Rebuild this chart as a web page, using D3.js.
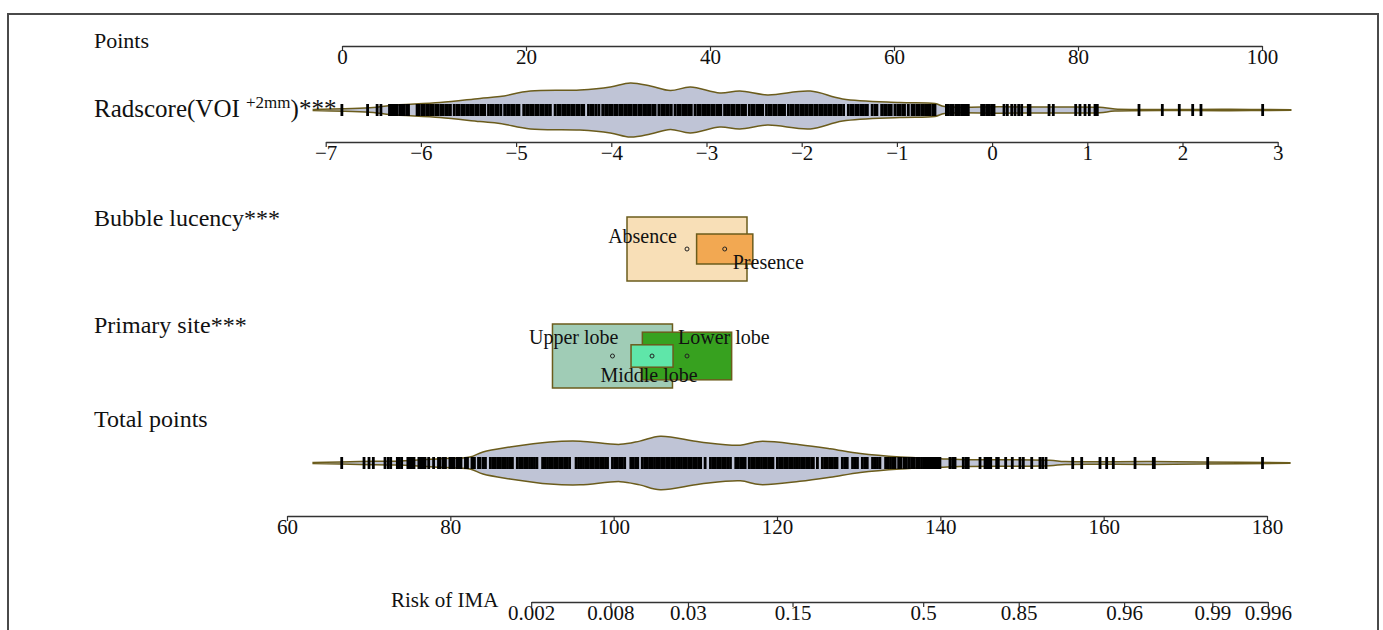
<!DOCTYPE html>
<html>
<head>
<meta charset="utf-8">
<script src="https://cdn.jsdelivr.net/npm/d3@7"></script>
<style>
  body { margin: 0; background: #fff; }
  text { font-family: "Liberation Serif", "Times New Roman", serif; fill: #111; }
</style>
</head>
<body>
<div id="chart"></div>
<script>
(function() {
  'use strict';

  // ---- data ----
  var pointsTicks = [0, 20, 40, 60, 80, 100];
  var radscoreTicks = [-7, -6, -5, -4, -3, -2, -1, 0, 1, 2, 3];
  var totalTicks = [60, 80, 100, 120, 140, 160, 180];
  var riskLabels = ["0.002", "0.008", "0.03", "0.15", "0.5", "0.85", "0.96", "0.99", "0.996"];
  var riskAtTotal = [89.9, 99.6, 109.1, 121.9, 137.9, 149.6, 162.5, 173.3, 180.1];

  var bubbleLevels = ["Absence", "Presence"];
  var bubblePoints = [37.5, 41.6];
  var bubbleFreq = [0.82, 0.18];

  var siteLevels = ["Upper lobe", "Middle lobe", "Lower lobe"];
  var sitePoints = [29.4, 33.7, 37.5];
  var siteFreq = [0.596, 0.073, 0.330];

  // violin outlines (relative density)
  var radDensX = [-7.13, -6.8, -6.5, -6.32, -5.8, -5.38, -5.17, -4.85, -4.33, -4.01, -3.8, -3.59, -3.38, -3.17,
    -2.86, -2.65, -2.36, -1.91, -1.57, -0.97, -0.6, -0.5, 0.08, 0.5, 1.13, 1.29, 2.5, 3.137];
  var radDensY = [0.02, 0.05, 0.09, 0.17, 0.28, 0.43, 0.5, 0.7, 0.74, 0.85, 1.0, 0.89, 0.72, 0.85,
    0.63, 0.7, 0.56, 0.7, 0.41, 0.28, 0.24, 0.13, 0.12, 0.11, 0.1, 0.04, 0.025, 0.01];

  var totalDensX = [63.2, 68.9, 73.8, 78.7, 82.4, 84.0, 87.3, 92.2, 95.9, 100.8, 103.2, 105.7, 110.6, 115.5,
    117.9, 122.8, 126.5, 130.2, 135.1, 140.0, 142.4, 153.4, 155.3, 165.7, 171.8, 182.8];
  var totalDensY = [0.02, 0.055, 0.075, 0.16, 0.22, 0.41, 0.59, 0.78, 0.81, 0.69, 0.81, 0.99, 0.78, 0.66,
    0.8, 0.68, 0.53, 0.35, 0.22, 0.16, 0.13, 0.1, 0.055, 0.055, 0.04, 0.01];

  // rug values
  var radscoreRug = [-6.83, -6.56, -6.46, -6.42,
    -6.33, -6.31, -6.29, -6.27, -6.25, -6.22, -6.20, -6.18, -6.15, -6.13,
    -6.04, -6.02, -5.99, -5.97, -5.94, -5.92, -5.89, -5.87, -5.84, -5.82, -5.79, -5.77, -5.74, -5.72, -5.69,
    -5.65, -5.62, -5.60, -5.57, -5.55, -5.52, -5.50, -5.47, -5.45, -5.42, -5.40, -5.37, -5.35, -5.33,
    -5.29, -5.26, -5.24, -5.21, -5.19, -5.16,
    -5.12, -5.09, -5.07, -5.04, -5.02, -4.99, -4.97,
    -4.92, -4.89, -4.87, -4.84, -4.82, -4.79, -4.77, -4.74, -4.72, -4.69, -4.67, -4.64,
    -4.59, -4.56, -4.54, -4.51, -4.49, -4.46, -4.44, -4.41, -4.39, -4.36, -4.34, -4.31, -4.29,
    -4.24, -4.21, -4.19, -4.16, -4.13,
    -4.09, -4.06, -4.04, -4.01, -3.99, -3.96, -3.94, -3.91, -3.89, -3.86, -3.84, -3.81, -3.79, -3.76,
    -3.74, -3.71, -3.69, -3.66, -3.64, -3.61, -3.59, -3.56, -3.54,
    -3.50, -3.47, -3.45, -3.42, -3.40, -3.37,
    -3.33, -3.30, -3.28, -3.25, -3.23, -3.21, -3.18, -3.16,
    -3.12, -3.09, -3.07, -3.04, -3.02, -2.99, -2.97, -2.94, -2.92, -2.89, -2.87, -2.85,
    -2.81, -2.78, -2.76, -2.73, -2.71, -2.68, -2.66, -2.63, -2.61, -2.59,
    -2.55, -2.52, -2.50, -2.47, -2.45, -2.43, -2.41,
    -2.37, -2.34, -2.32, -2.29, -2.27, -2.24, -2.22, -2.20, -2.18,
    -2.14, -2.11, -2.09, -2.06, -2.04, -2.01, -1.99, -1.96, -1.94, -1.91, -1.89, -1.86, -1.84, -1.81,
    -1.79, -1.76, -1.74, -1.71, -1.69, -1.66, -1.64, -1.61, -1.59, -1.56,
    -1.51, -1.48, -1.46, -1.43, -1.41, -1.38, -1.36, -1.33, -1.31,
    -1.26, -1.23, -1.21, -1.16, -1.13, -1.11, -1.08, -1.06,
    -1.02, -0.99, -0.97, -0.94, -0.92,
    -0.88, -0.84, -0.82, -0.79, -0.77, -0.74, -0.72, -0.69, -0.67, -0.65, -0.62, -0.60,
    -0.48, -0.46, -0.435, -0.41, -0.38, -0.365, -0.345, -0.32, -0.295, -0.275, -0.25,
    -0.11, -0.085, -0.057, -0.029, -0.004, 0.02,
    0.125, 0.16, 0.206, 0.241, 0.279, 0.311, 0.38, 0.398, 0.598, 0.643,
    0.878, 0.923, 0.976, 1.021, 1.081, 1.105, 1.543, 1.788, 1.966, 2.107, 2.194, 2.842];

  var totalRug = [66.7, 69.43, 70.04, 70.57, 72.0, 72.4, 72.7, 73.51, 73.75, 74.04,
    74.80, 75.05, 75.30, 75.55, 76.15, 76.40, 76.65, 76.90, 77.35, 77.95, 78.55, 78.75,
    79.15, 79.40, 79.95, 80.20, 80.40, 80.80, 81.05, 81.30, 81.85, 82.10, 82.65, 82.95,
    83.45, 83.65, 84.05, 84.30,
    84.90, 85.20, 85.50, 85.80, 86.10, 86.40, 86.70, 87.00, 87.30, 87.60,
    88.20, 88.50, 88.80, 89.10, 89.40, 89.70, 90.00, 90.30, 90.60,
    91.30, 91.60, 91.90, 92.20, 92.50, 92.80, 93.10, 93.40, 93.70, 94.00, 94.30, 94.60,
    95.40, 95.70, 96.00, 96.30, 96.60, 96.90, 97.20, 97.50, 97.80, 98.10, 98.40, 98.70, 99.00, 99.25,
    99.85, 100.15, 100.45, 100.75, 101.05, 101.35, 102.10, 102.40, 102.70, 102.95,
    103.50, 103.80, 104.10, 104.40, 104.70, 105.00, 105.30, 105.60, 105.90, 106.20, 106.50, 106.80,
    107.10, 107.40, 107.70, 108.00, 108.30, 108.60, 108.90, 109.20, 109.50, 109.80, 110.10, 110.40, 110.65,
    111.20, 111.85, 112.15, 112.45, 112.75, 113.05, 113.35, 113.65, 113.95, 114.30,
    114.95, 115.25, 115.55, 115.85, 116.10,
    116.60, 116.90, 117.20, 117.50, 117.80, 118.10, 118.40, 118.70, 119.00, 119.30, 119.50,
    120.05, 120.35, 120.65, 120.95, 121.25, 121.55, 121.85, 122.15, 122.45, 122.75, 123.05, 123.35,
    123.65, 123.95, 124.25, 124.45, 124.95,
    125.55, 125.85, 126.15, 126.45, 126.75, 127.05, 127.35, 128.00, 128.30, 128.60,
    129.25, 129.55, 129.85, 130.45, 130.75, 131.05, 131.70, 132.00, 132.30, 132.60,
    133.30, 133.60, 133.90, 134.20, 134.45,
    134.90, 135.20, 135.60, 135.85, 136.20, 136.50, 136.75, 137.10, 137.40, 137.70, 138.00,
    138.25, 138.50, 138.75, 139.00, 139.25, 139.45, 139.70, 139.95,
    141.18, 141.51, 141.80, 142.81, 143.14, 143.42, 144.86, 145.47, 145.75, 145.99, 146.17,
    146.90, 147.10, 148.00, 148.81, 149.75, 150.16, 151.19, 152.20, 152.53, 152.94,
    156.21, 157.31, 159.55, 160.37, 161.18, 163.84, 166.08, 166.20, 172.74, 179.45];

  // ---- layout ----
  var width = 1383, height = 630;
  var labelX = 94;
  var rows = {
    points: 46, radViolin: 110, radAxis: 142, bubble: 249, site: 356,
    totalViolin: 463, totalAxis: 516, risk: 602
  };
  var boxMax = { w: 120, h: 64 };
  var boxColors = {
    "Absence": "#f8dfb7", "Presence": "#f2a852",
    "Upper lobe": "#a0ccb6", "Middle lobe": "#5fe6a9", "Lower lobe": "#37a11f"
  };
  // label placement around each box centre: [dx, dy, anchor]
  var labelOffsets = {
    "Absence": [-10, -6, "end"], "Presence": [8, 20, "start"],
    "Upper lobe": [6, -12, "end"], "Middle lobe": [-3, 26, "middle"], "Lower lobe": [-9, -12, "start"]
  };
  var outline = "#6b5c1c";

  var pointsX = d3.scaleLinear().domain([0, 100]).range([342, 1262]);
  var radX = d3.scaleLinear().domain([-7, 3]).range([325.7, 1277.7]);
  var totalX = d3.scaleLinear().domain([60, 180]).range([287, 1267]);
  var riskX = d3.scaleLinear()
    .domain([riskAtTotal[0], riskAtTotal[riskAtTotal.length - 1]])
    .range([totalX(riskAtTotal[0]), totalX(riskAtTotal[riskAtTotal.length - 1])]);
  var halfW = d3.scaleLinear().domain([0, 1]).range([0, 27]);

  var svg = d3.select("#chart").append("svg")
    .attr("width", width)
    .attr("height", height);

  svg.append("rect")
    .attr("x", 8).attr("y", 14)
    .attr("width", 1370).attr("height", 700)
    .attr("fill", "none")
    .attr("stroke", "#4a4a4a")
    .attr("stroke-width", 2);

  function drawAxis(scale, y, ticks, fmt, fontSize) {
    var axis = d3.axisBottom(scale)
      .tickValues(ticks)
      .tickSize(5)
      .tickSizeOuter(0);
    if (fmt) axis.tickFormat(fmt);
    var g = svg.append("g")
      .attr("transform", "translate(0," + y + ")")
      .call(axis)
      .attr("font-family", null)
      .attr("font-size", null);
    g.select(".domain").attr("stroke", "#333").attr("stroke-width", 1.4);
    g.selectAll(".tick line").attr("stroke", "#333").attr("stroke-width", 1.2);
    g.selectAll(".tick text")
      .attr("y", 18)
      .attr("dy", 0)
      .style("font-size", fontSize + "px");
    return g;
  }

  function drawViolin(scale, cy, xs, ys, rug) {
    var pts = xs.map(function(x, i) { return [x, ys[i]]; });
    var area = d3.area()
      .x(function(d) { return scale(d[0]); })
      .y0(function(d) { return cy + halfW(d[1]); })
      .y1(function(d) { return cy - halfW(d[1]); })
      .curve(d3.curveCatmullRom.alpha(0.5));
    svg.append("path")
      .datum(pts)
      .attr("d", area)
      .attr("fill", "#bfc4d6")
      .attr("stroke", outline)
      .attr("stroke-width", 1.5);
    svg.append("g").selectAll("line")
      .data(rug)
      .enter().append("line")
      .attr("x1", function(d) { return scale(d); })
      .attr("x2", function(d) { return scale(d); })
      .attr("y1", cy - 6)
      .attr("y2", cy + 6)
      .attr("stroke", "#000")
      .attr("stroke-width", 2.8);
  }

  function drawBoxes(levels, pointsVals, freq, cy) {
    var fmax = d3.max(freq);
    var size = d3.scaleSqrt().domain([0, fmax]).range([0, 1]);
    var items = levels.map(function(l, i) {
      return { level: l, x: pointsX(pointsVals[i]), s: size(freq[i]) };
    }).sort(function(a, b) { return b.s - a.s; });

    var g = svg.append("g");
    g.selectAll("rect")
      .data(items)
      .enter().append("rect")
      .attr("x", function(d) { return d.x - boxMax.w * d.s / 2; })
      .attr("y", function(d) { return cy - boxMax.h * d.s / 2; })
      .attr("width", function(d) { return boxMax.w * d.s; })
      .attr("height", function(d) { return boxMax.h * d.s; })
      .attr("fill", function(d) { return boxColors[d.level]; })
      .attr("stroke", outline)
      .attr("stroke-width", 1.5);
    g.selectAll("circle")
      .data(items)
      .enter().append("circle")
      .attr("cx", function(d) { return d.x; })
      .attr("cy", cy)
      .attr("r", 2)
      .attr("fill", "none")
      .attr("stroke", "#222")
      .attr("stroke-width", 1);
    g.selectAll("text")
      .data(items)
      .enter().append("text")
      .attr("x", function(d) { return d.x + labelOffsets[d.level][0]; })
      .attr("y", function(d) { return cy + labelOffsets[d.level][1]; })
      .attr("text-anchor", function(d) { return labelOffsets[d.level][2]; })
      .style("font-size", "20px")
      .text(function(d) { return d.level; });
  }

  // Points
  svg.append("text").attr("x", labelX).attr("y", 48).style("font-size", "22px").text("Points");
  drawAxis(pointsX, rows.points, pointsTicks, null, 21);

  // Radscore
  drawViolin(radX, rows.radViolin, radDensX, radDensY, radscoreRug);
  drawAxis(radX, rows.radAxis, radscoreTicks, d3.format("d"), 21);
  var rl = svg.append("text").attr("x", labelX).attr("y", 117).style("font-size", "25px");
  rl.append("tspan").text("Radscore(VOI ");
  rl.append("tspan").attr("dy", -9).style("font-size", "17px").text("+2mm");
  rl.append("tspan").attr("dy", 9).text(")***");

  // Bubble lucency
  svg.append("text").attr("x", labelX).attr("y", 226).style("font-size", "24px").text("Bubble lucency***");
  drawBoxes(bubbleLevels, bubblePoints, bubbleFreq, rows.bubble);

  // Primary site
  svg.append("text").attr("x", labelX).attr("y", 333).style("font-size", "24px").text("Primary site***");
  drawBoxes(siteLevels, sitePoints, siteFreq, rows.site);

  // Total points
  svg.append("text").attr("x", labelX).attr("y", 427).style("font-size", "24px").text("Total points");
  drawViolin(totalX, rows.totalViolin, totalDensX, totalDensY, totalRug);
  drawAxis(totalX, rows.totalAxis, totalTicks, null, 21);

  // Risk
  svg.append("text").attr("x", 391).attr("y", 607).style("font-size", "21px").text("Risk of IMA");
  drawAxis(riskX, rows.risk, riskAtTotal, function(d, i) { return riskLabels[i]; }, 21);
}());
</script>
</body>
</html>
